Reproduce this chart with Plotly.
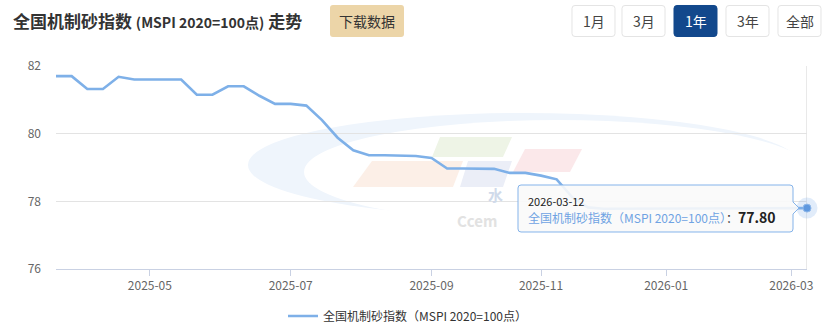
import plotly.graph_objects as go

# ---------------- data ----------------
dates = [
    "2025-03-13", "2025-03-20", "2025-03-27", "2025-04-03", "2025-04-10", "2025-04-17",
    "2025-05-01", "2025-05-08", "2025-05-15", "2025-05-22", "2025-05-29",
    "2025-06-05", "2025-06-12", "2025-06-19", "2025-06-26",
    "2025-07-03", "2025-07-10", "2025-07-17", "2025-07-24", "2025-07-31",
    "2025-08-07", "2025-08-14", "2025-08-21", "2025-08-28",
    "2025-09-04", "2025-09-11", "2025-09-18", "2025-09-25",
    "2025-10-16", "2025-10-23", "2025-10-30",
    "2025-11-06", "2025-11-13", "2025-11-20", "2025-11-27",
    "2025-12-04", "2025-12-11", "2025-12-18", "2025-12-25",
    "2026-01-08", "2026-01-15", "2026-01-22", "2026-01-29",
    "2026-02-05", "2026-02-12", "2026-02-19", "2026-02-26",
    "2026-03-05", "2026-03-12",
]
values = [
    81.70, 81.70, 81.32, 81.32, 81.68, 81.60,
    81.60, 81.60, 81.60, 81.15, 81.15,
    81.40, 81.40, 81.12, 80.88,
    80.88, 80.83, 80.40, 79.88, 79.51,
    79.36, 79.36, 79.36, 79.34,
    79.28, 78.97, 78.97, 78.97,
    78.96, 78.84, 78.84,
    78.76, 78.65, 78.12, 77.82,
    77.78, 77.78, 77.78, 77.78,
    77.80, 77.80, 77.80, 77.80,
    77.80, 77.80, 77.80, 77.80,
    77.80, 77.80,
]
tick_months = ["2025-05", "2025-07", "2025-09", "2025-11", "2026-01", "2026-03"]
y_ticks = [76, 78, 80, 82]

series_name = "全国机制砂指数（MSPI 2020=100点）"
title_main = "全国机制砂指数"
title_unit = "(MSPI 2020=100点)"
title_tail = "走势"
download_label = "下载数据"
range_buttons = ["1月", "3月", "1年", "3年", "全部"]
active_button = "1年"
watermark_cn = "水"
watermark_en = "Ccem"

# tick positions: first category of each labelled month
tickvals = [next(d for d in dates if d.startswith(m)) for m in tick_months]

# ---------------- geometry helpers (pixel -> paper) ----------------
W, H = 829, 327
ML, MR, MT, MB = 56, 22, 66, 58
PW = W - ML - MR
PH = H - MT - MB


def px(x):
    return (x - ML) / PW


def py(y):
    return (H - MB - y) / PH


def P(x, y):
    return f"{px(x):.5f},{py(y):.5f}"


def rrect(x0, y0, x1, y1, r):
    return (f"M {P(x0 + r, y0)} L {P(x1 - r, y0)} Q {P(x1, y0)} {P(x1, y0 + r)} "
            f"L {P(x1, y1 - r)} Q {P(x1, y1)} {P(x1 - r, y1)} L {P(x0 + r, y1)} "
            f"Q {P(x0, y1)} {P(x0, y1 - r)} L {P(x0, y0 + r)} Q {P(x0, y0)} {P(x0 + r, y0)} Z")


def poly(pts):
    return "M " + " L ".join(P(x, y) for x, y in pts) + " Z"


FONT = "Microsoft YaHei, Noto Sans CJK SC, sans-serif"
LINE_COLOR = "#7eb0e8"

fig = go.Figure()

fig.add_trace(go.Scatter(
    x=dates, y=values, mode="lines", name=series_name,
    line=dict(color=LINE_COLOR, width=2.6), hoverinfo="skip",
))
# highlighted last point (halo + dot)
fig.add_trace(go.Scatter(
    x=[dates[-1]], y=[values[-1]], mode="markers", showlegend=False, cliponaxis=False,
    marker=dict(size=21, color="rgba(120,170,230,0.22)"), hoverinfo="skip",
))
fig.add_trace(go.Scatter(
    x=[dates[-1]], y=[values[-1]], mode="markers", showlegend=False, cliponaxis=False,
    marker=dict(size=8, color="#5e98df", line=dict(width=1, color="#8fb8ea")), hoverinfo="skip",
))

shapes = []
annotations = []

# ---- watermark (faint logo) ----
shapes.append(dict(type="circle", xref="paper", yref="paper", layer="below",
                   x0=px(248), x1=px(800), y0=py(217), y1=py(113),
                   fillcolor="#eff5fc", line=dict(width=0)))
shapes.append(dict(type="circle", xref="paper", yref="paper", layer="below",
                   x0=px(304), x1=px(812), y0=py(224), y1=py(120),
                   fillcolor="#ffffff", line=dict(width=0)))
for pts, col in [
    ([(440, 137), (512, 137), (503, 157), (432, 157)], "#eef4e6"),
    ([(372, 161), (463, 161), (453, 187), (353, 187)], "#fcefe7"),
    ([(468, 161), (512, 161), (503, 187), (460, 187)], "#ebeef7"),
    ([(525, 149), (582, 149), (570, 172), (513, 172)], "#fbe8ea"),
]:
    shapes.append(dict(type="path", xref="paper", yref="paper", layer="below",
                       path=poly(pts), fillcolor=col, line=dict(width=0)))
annotations.append(dict(xref="paper", yref="paper", x=px(486), y=py(194), xanchor="left",
                        yanchor="middle", showarrow=False, text=f"<b>{watermark_cn}</b>",
                        font=dict(size=15, color="#d0daea", family=FONT)))
annotations.append(dict(xref="paper", yref="paper", x=px(455), y=py(220), xanchor="left",
                        yanchor="middle", showarrow=False, text=f"<b>{watermark_en}</b>",
                        font=dict(size=15, color="#e2e2e2", family=FONT)))

# ---- crosshair at last point ----
shapes.append(dict(type="line", xref="x", yref="paper", x0=len(dates) - 1, x1=len(dates) - 1,
                   y0=0, y1=1, line=dict(color="#d2d2d2", width=1), layer="below"))

# ---- tooltip ----
tip = (f"M {P(521, 185)} L {P(790, 185)} Q {P(793, 185)} {P(793, 188)} L {P(793, 202)} "
       f"L {P(799, 208)} L {P(793, 214)} L {P(793, 229)} Q {P(793, 232)} {P(790, 232)} "
       f"L {P(521, 232)} Q {P(518, 232)} {P(518, 229)} L {P(518, 188)} Q {P(518, 185)} {P(521, 185)} Z")
shapes.append(dict(type="path", xref="paper", yref="paper", layer="above", path=tip,
                   fillcolor="rgba(250,250,250,0.9)", line=dict(color="#84b3ea", width=1)))
annotations.append(dict(xref="paper", yref="paper", x=px(526), y=py(201), xanchor="left",
                        yanchor="middle", showarrow=False, text=dates[-1],
                        font=dict(size=11, color="#222", family=FONT)))
annotations.append(dict(xref="paper", yref="paper", x=px(526), y=py(217), xanchor="left",
                        yanchor="middle", showarrow=False,
                        text=(f"<span style='color:#6fa3e3'>{series_name}</span>"
                              f"<span style='color:#333'>：</span>"
                              f"<span style='font-size:14px;color:#222'><b>{values[-1]:.2f}</b></span>"),
                        font=dict(size=12, color="#6fa3e3", family=FONT)))

# ---- title ----
annotations.append(dict(xref="paper", yref="paper", x=px(11), y=py(20), xanchor="left",
                        yanchor="middle", showarrow=False,
                        text=(f"<b>{title_main} <span style='font-size:14px'>{title_unit}</span> "
                              f"{title_tail}</b>"),
                        font=dict(size=17, color="#333", family=FONT)))

# ---- download button ----
shapes.append(dict(type="path", xref="paper", yref="paper", path=rrect(330, 5, 404, 37, 3),
                   fillcolor="#ecd5a8", line=dict(width=0)))
annotations.append(dict(xref="paper", yref="paper", x=px(367), y=py(21), xanchor="center",
                        yanchor="middle", showarrow=False, text=download_label,
                        font=dict(size=14, color="#333", family=FONT)))

# ---- range buttons ----
bx = [572, 622, 674, 726, 778]
for label, x0 in zip(range_buttons, bx):
    active = label == active_button
    shapes.append(dict(type="path", xref="paper", yref="paper", path=rrect(x0, 5.5, x0 + 43, 36.5, 3),
                       fillcolor="#12488c" if active else "#ffffff",
                       line=dict(color="#12488c" if active else "#e4e4e4", width=1)))
    annotations.append(dict(xref="paper", yref="paper", x=px(x0 + 21.5), y=py(21), xanchor="center",
                            yanchor="middle", showarrow=False, text=label,
                            font=dict(size=14, color="#ffffff" if active else "#444", family=FONT)))

fig.update_layout(
    width=W, height=H,
    margin=dict(l=ML, r=MR, t=MT, b=MB, pad=0, autoexpand=False),
    paper_bgcolor="#ffffff", plot_bgcolor="rgba(0,0,0,0)",
    font=dict(family=FONT, size=12, color="#666"),
    showlegend=True,
    legend=dict(orientation="h", x=px(283), xanchor="left", y=py(316), yanchor="middle",
                font=dict(size=12, color="#333", family=FONT), bgcolor="rgba(0,0,0,0)"),
    shapes=shapes, annotations=annotations,
    xaxis=dict(type="category", range=[0, len(dates) - 1], showgrid=False, zeroline=False,
               showline=True, linecolor="#c9d1e3", linewidth=1,
               ticks="outside", ticklen=6, tickcolor="#c9d1e3",
               tickvals=tickvals, ticktext=tick_months,
               tickfont=dict(size=12, color="#666", family=FONT)),
    yaxis=dict(range=[y_ticks[0], y_ticks[-1]], tickvals=y_ticks, showgrid=True,
               gridcolor="#e3e3e3", gridwidth=1, zeroline=False, showline=False,
               ticks="", ticklabelstandoff=14,
               tickfont=dict(size=12, color="#666", family=FONT)),
)

fig.write_html("out.html")
